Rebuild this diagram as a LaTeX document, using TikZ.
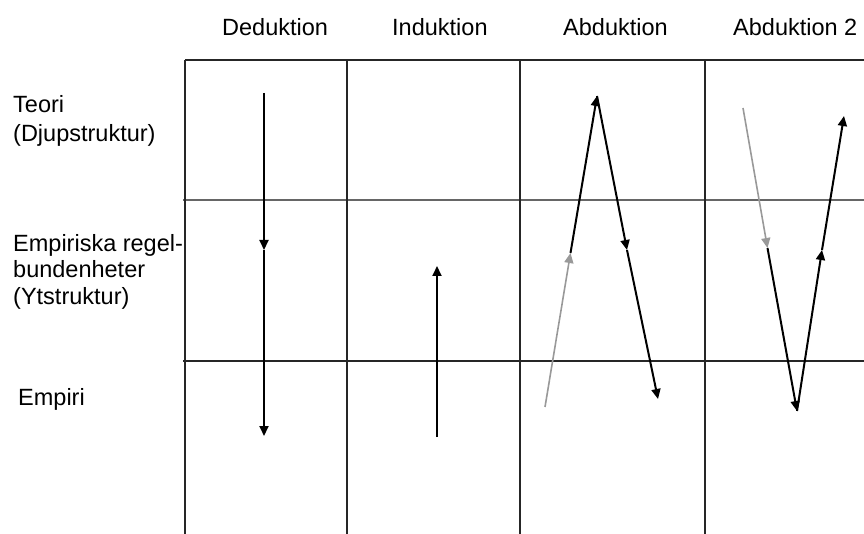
\documentclass[tikz,border=0pt]{standalone}
\usepackage{fontspec}
\setmainfont{Liberation Sans}
\usetikzlibrary{arrows.meta}
\begin{document}
\begin{tikzpicture}[x=1pt,y=-1pt,
  grid/.style={line width=1.6pt,draw=black!85},
  midgrid/.style={line width=2.5pt,draw=black!60},
  arr/.style={line width=2pt,draw=black,-{Triangle[length=10pt,width=9pt]}},
  garr/.style={line width=1.6pt,draw=black!40,-{Triangle[length=10pt,width=9pt,fill=black!40]}},
  lbl/.style={anchor=base west,inner sep=0pt,font=\fontsize{23.5}{28}\selectfont}]
\useasboundingbox (0,0) rectangle (864,534);
% grid
\coordinate (t0) at (185,60);  \coordinate (t1) at (864,60);
\coordinate (m0) at (183,200); \coordinate (m1) at (864,200);
\coordinate (e0) at (183,361); \coordinate (e1) at (864,361);
\coordinate (v1a) at (185,60);  \coordinate (v1b) at (185,534);
\coordinate (v2a) at (347,60);  \coordinate (v2b) at (347,534);
\coordinate (v3a) at (520,60);  \coordinate (v3b) at (520,534);
\coordinate (v4a) at (705,60);  \coordinate (v4b) at (705,534);
\draw[midgrid] (m0) -- (m1);
\draw[grid] (t0) -- (t1);
\draw[grid] (e0) -- (e1);
\draw[grid] (v1a) -- (v1b);
\draw[grid] (v2a) -- (v2b);
\draw[grid] (v3a) -- (v3b);
\draw[grid] (v4a) -- (v4b);
% headers
\node[lbl] (h1) at (222,36) {Deduktion};
\node[lbl] (h2) at (392,36) {Induktion};
\node[lbl] (h3) at (563,36) {Abduktion};
\node[lbl] (h4) at (733,36) {Abduktion 2};
% row labels
\node[lbl] (r1a) at (13,113) {Teori};
\node[lbl] (r1b) at (13,142) {(Djupstruktur)};
\node[lbl] (r2a) at (13,252) {Empiriska regel-};
\node[lbl] (r2b) at (13,278) {bundenheter};
\node[lbl] (r2c) at (13,305) {(Ytstruktur)};
\node[lbl] (r3a) at (18,405) {Empiri};
% Deduktion
\coordinate (d0) at (264,93);
\coordinate (d1) at (264,250);
\coordinate (d2) at (264,436);
\draw[arr] (d0) -- (d1);
\draw[arr] (d1) -- (d2);
% Induktion
\coordinate (i0) at (437,437);
\coordinate (i1) at (437,266);
\draw[arr] (i0) -- (i1);
% Abduktion
\coordinate (a0) at (545,407);
\coordinate (a1) at (570.5,253);
\coordinate (a2) at (597,96);
\coordinate (a3) at (627,250);
\coordinate (a4) at (658,399);
\draw[garr] (a0) -- (a1);
\draw[arr] (a1) -- (a2);
\draw[arr] (a2) -- (a3);
\draw[arr] (a3) -- (a4);
% Abduktion 2
\coordinate (b0) at (743,108);
\coordinate (b1) at (767.5,248);
\coordinate (b2) at (797,411);
\coordinate (b3) at (822,250);
\coordinate (b4) at (844,116);
\draw[garr] (b0) -- (b1);
\draw[arr] (b1) -- (b2);
\draw[arr] (b2) -- (b3);
\draw[arr] (b3) -- (b4);
\end{tikzpicture}
\end{document}
